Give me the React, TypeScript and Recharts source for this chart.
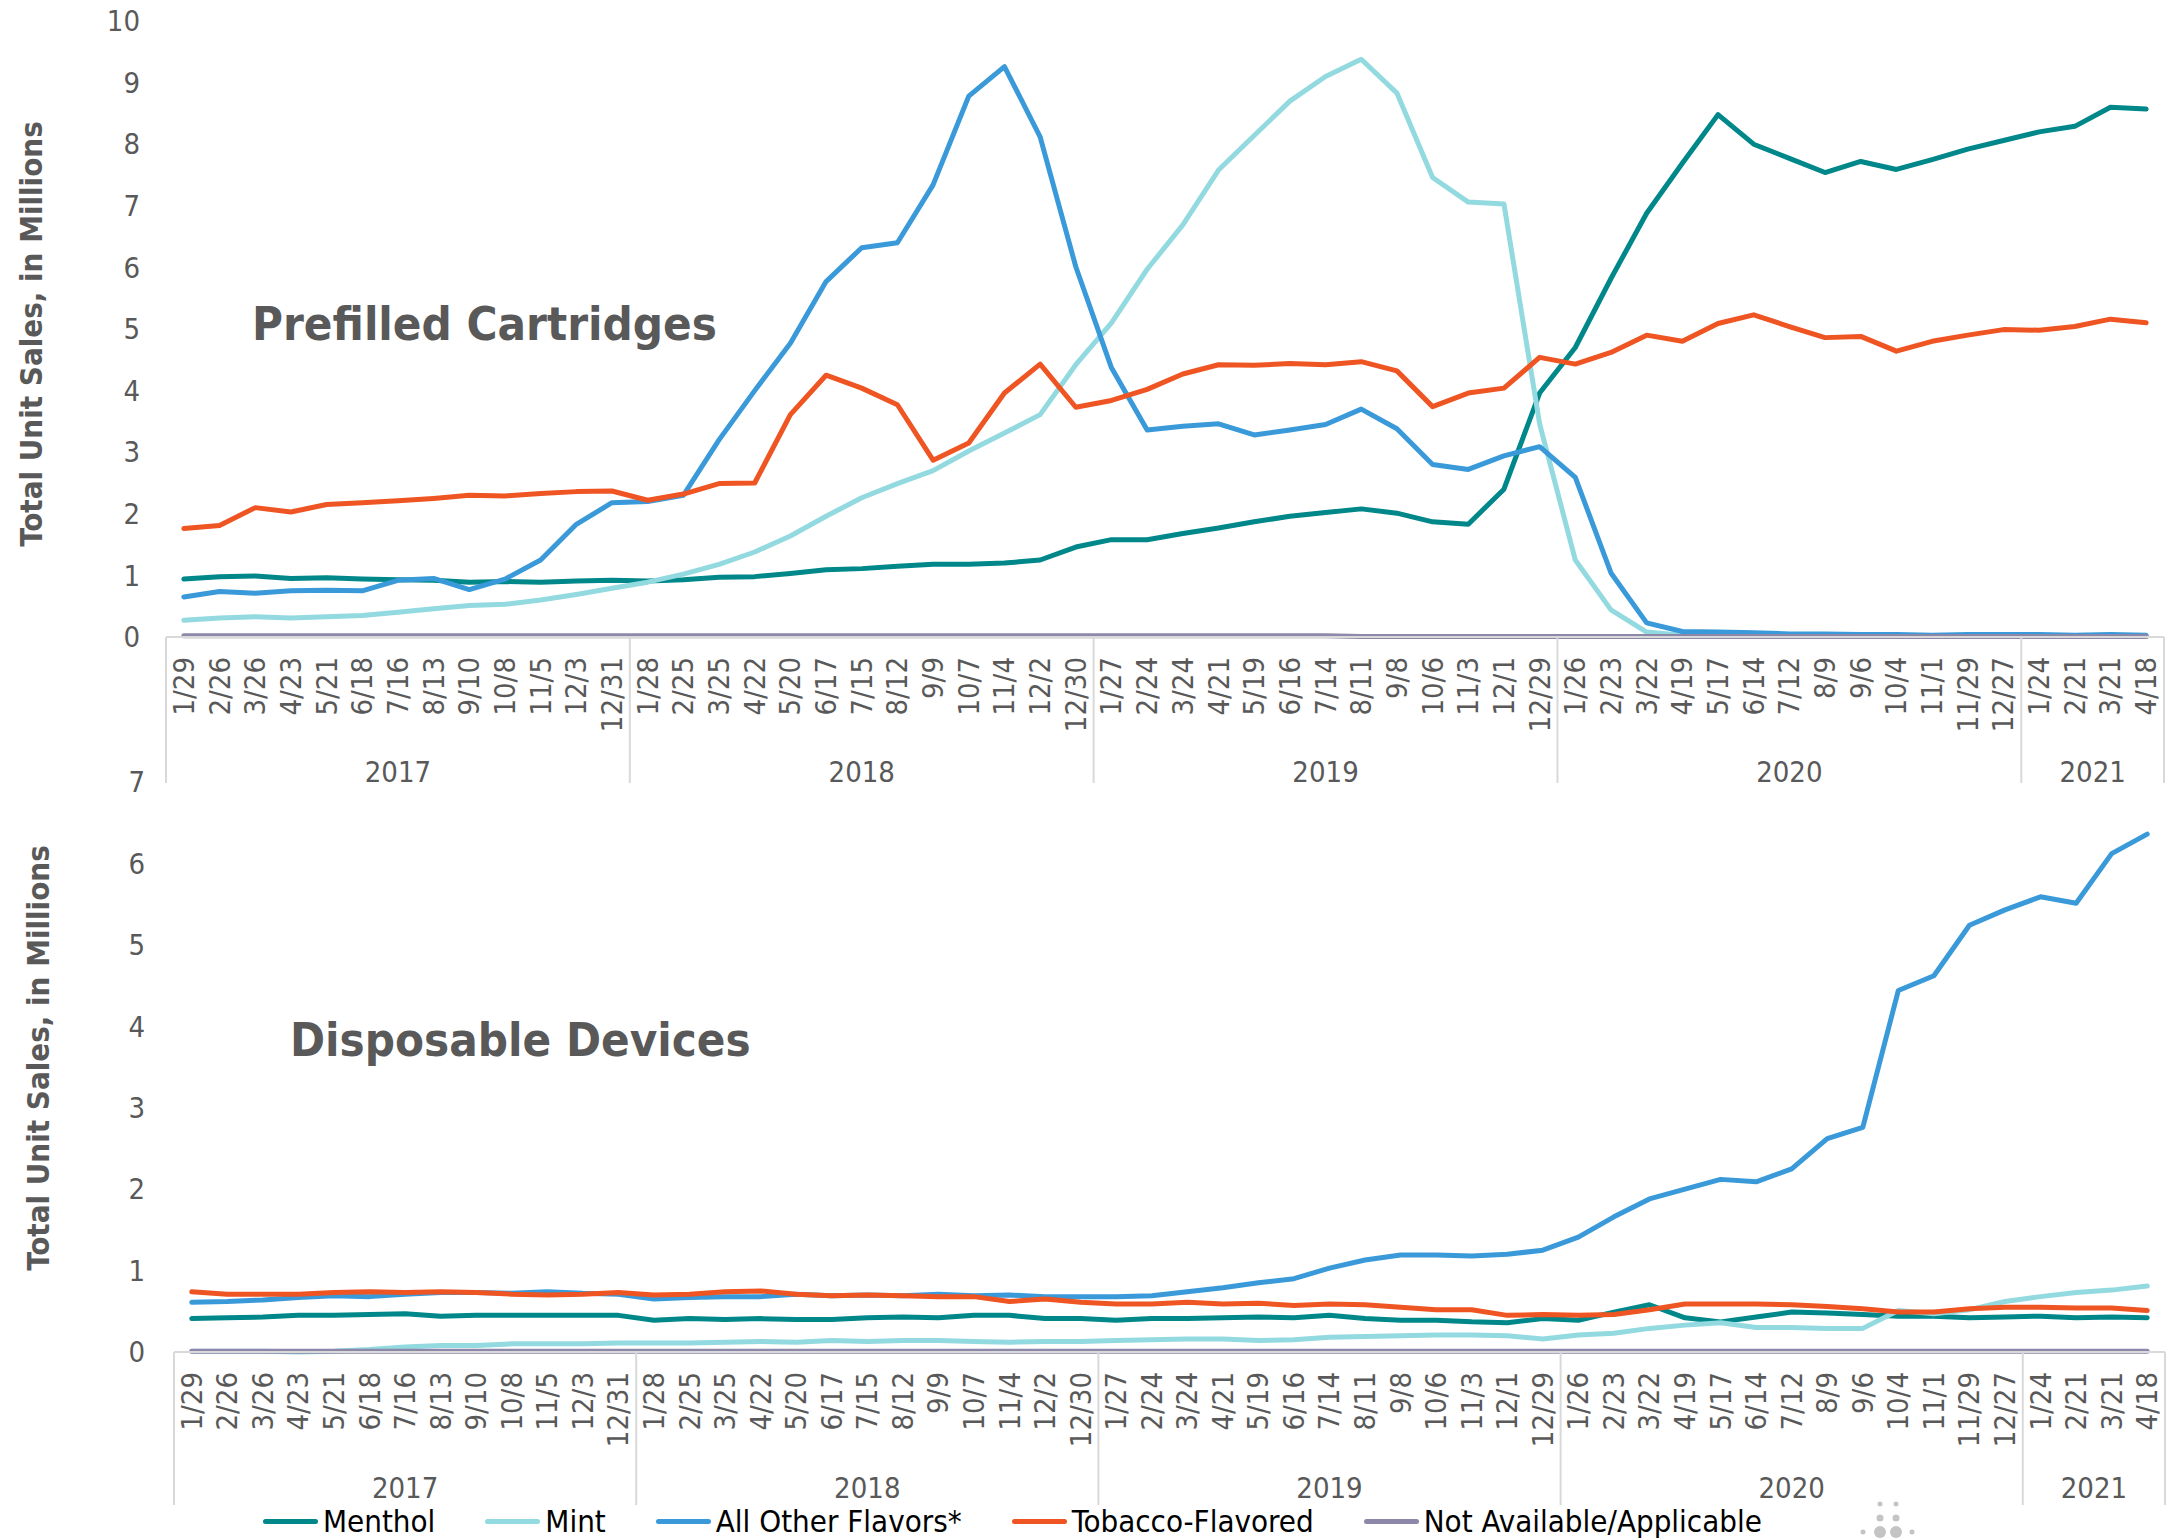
import { Line, LineChart, XAxis, YAxis } from 'recharts';

const FONT = "'DejaVu Sans Condensed', 'DejaVu Sans', sans-serif";
const GRAY = '#595959';
const AXIS = '#d9d9d9';

// week-ending dates, grouped by year
const weeks2017 = ['1/29', '2/26', '3/26', '4/23', '5/21', '6/18', '7/16', '8/13', '9/10', '10/8', '11/5', '12/3', '12/31'];
const weeks2018 = ['1/28', '2/25', '3/25', '4/22', '5/20', '6/17', '7/15', '8/12', '9/9', '10/7', '11/4', '12/2', '12/30'];
const weeks2019 = ['1/27', '2/24', '3/24', '4/21', '5/19', '6/16', '7/14', '8/11', '9/8', '10/6', '11/3', '12/1', '12/29'];
const weeks2020 = ['1/26', '2/23', '3/22', '4/19', '5/17', '6/14', '7/12', '8/9', '9/6', '10/4', '11/1', '11/29', '12/27'];
const weeks2021 = ['1/24', '2/21', '3/21', '4/18'];

const yearGroups = [
  { year: '2017', weeks: weeks2017 },
  { year: '2018', weeks: weeks2018 },
  { year: '2019', weeks: weeks2019 },
  { year: '2020', weeks: weeks2020 },
  { year: '2021', weeks: weeks2021 },
];
const weekLabels = yearGroups.flatMap((g) => g.weeks);

// Prefilled cartridges, millions of units
const cartMenthol = [
  0.94, 0.98, 0.99, 0.95, 0.96, 0.94, 0.93, 0.92, 0.89, 0.9, 0.89, 0.91, 0.92,
  0.91, 0.93, 0.97, 0.98, 1.03, 1.09, 1.11, 1.15, 1.18, 1.18, 1.2, 1.25, 1.46,
  1.58, 1.58, 1.68, 1.77, 1.87, 1.96, 2.02, 2.08, 2.01, 1.87, 1.83, 2.4, 3.96,
  4.7, 5.82, 6.88, 7.69, 8.48, 8.0, 7.77, 7.54, 7.72, 7.59, 7.75, 7.92, 8.06,
  8.2, 8.29, 8.6, 8.57,
];
const cartMint = [
  0.27, 0.31, 0.33, 0.31, 0.33, 0.35, 0.4, 0.46, 0.51, 0.53, 0.6, 0.69, 0.79,
  0.89, 1.02, 1.18, 1.38, 1.64, 1.96, 2.26, 2.49, 2.7, 3.02, 3.31, 3.61, 4.42,
  5.1, 5.97, 6.69, 7.58, 8.14, 8.7, 9.1, 9.38, 8.83, 7.46, 7.06, 7.03, 3.46,
  1.25, 0.44, 0.08, 0.03, 0.02, 0.02, 0.02, 0.02, 0.01, 0.01, 0.01, 0.01, 0.01,
  0.01, 0.01, 0.01, 0.01,
];
const cartOther = [
  0.65, 0.74, 0.71, 0.75, 0.76, 0.75, 0.92, 0.95, 0.77, 0.94, 1.25, 1.83, 2.18,
  2.2, 2.3, 3.2, 4.0, 4.77, 5.77, 6.32, 6.4, 7.34, 8.78, 9.26, 8.12, 6.01,
  4.37, 3.36, 3.42, 3.46, 3.28, 3.36, 3.45, 3.7, 3.38, 2.8, 2.72, 2.94, 3.09,
  2.59, 1.04, 0.23, 0.09, 0.08, 0.07, 0.05, 0.05, 0.04, 0.04, 0.03, 0.04, 0.04,
  0.04, 0.03, 0.04, 0.03,
];
const cartTobacco = [
  1.76, 1.81, 2.1, 2.03, 2.15, 2.18, 2.21, 2.25, 2.3, 2.29, 2.33, 2.36, 2.37,
  2.22, 2.32, 2.49, 2.5, 3.61, 4.25, 4.04, 3.77, 2.87, 3.15, 3.96, 4.43, 3.73,
  3.84, 4.02, 4.27, 4.42, 4.41, 4.44, 4.42, 4.47, 4.32, 3.74, 3.96, 4.04, 4.54,
  4.43, 4.62, 4.9, 4.8, 5.09, 5.23, 5.04, 4.86, 4.88, 4.64, 4.8, 4.9, 4.99,
  4.98, 5.04, 5.16, 5.1,
];
const cartNA = [
  0.02, 0.02, 0.02, 0.02, 0.02, 0.02, 0.02, 0.02, 0.02, 0.02, 0.02, 0.02, 0.02,
  0.02, 0.02, 0.02, 0.02, 0.02, 0.02, 0.02, 0.02, 0.02, 0.02, 0.02, 0.02, 0.02,
  0.02, 0.02, 0.02, 0.02, 0.02, 0.02, 0.02, 0.01, 0.01, 0.01, 0.01, 0.01, 0.01,
  0.01, 0.01, 0.01, 0.01, 0.01, 0.01, 0.01, 0.01, 0.01, 0.01, 0.01, 0.01, 0.01,
  0.01, 0.01, 0.01, 0.01,
];

// Disposable devices, millions of units
const dispMenthol = [
  0.41, 0.42, 0.43, 0.45, 0.45, 0.46, 0.47, 0.44, 0.45, 0.45, 0.45, 0.45, 0.45,
  0.39, 0.41, 0.4, 0.41, 0.4, 0.4, 0.42, 0.43, 0.42, 0.45, 0.45, 0.41, 0.41,
  0.39, 0.41, 0.41, 0.42, 0.43, 0.42, 0.45, 0.41, 0.39, 0.39, 0.37, 0.36, 0.41,
  0.39, 0.49, 0.58, 0.42, 0.37, 0.43, 0.49, 0.48, 0.46, 0.44, 0.44, 0.42, 0.43,
  0.44, 0.42, 0.43, 0.42,
];
const dispMint = [
  0.01, 0.01, 0.01, 0.0, 0.01, 0.03, 0.06, 0.08, 0.08, 0.1, 0.1, 0.1, 0.11,
  0.11, 0.11, 0.12, 0.13, 0.12, 0.14, 0.13, 0.14, 0.14, 0.13, 0.12, 0.13, 0.13,
  0.14, 0.15, 0.16, 0.16, 0.14, 0.15, 0.18, 0.19, 0.2, 0.21, 0.21, 0.2, 0.16,
  0.21, 0.23, 0.29, 0.33, 0.36, 0.3, 0.3, 0.29, 0.29, 0.51, 0.47, 0.52, 0.62,
  0.68, 0.73, 0.76, 0.81,
];
const dispOther = [
  0.61, 0.62, 0.64, 0.67, 0.69, 0.68, 0.71, 0.73, 0.73, 0.72, 0.74, 0.72, 0.71,
  0.65, 0.67, 0.68, 0.68, 0.71, 0.69, 0.7, 0.69, 0.71, 0.69, 0.7, 0.68, 0.68,
  0.68, 0.69, 0.74, 0.79, 0.85, 0.9, 1.03, 1.13, 1.19, 1.19, 1.18, 1.2, 1.25,
  1.41, 1.66, 1.88, 2.0, 2.12, 2.09, 2.25, 2.62, 2.76, 4.44, 4.62, 5.24, 5.43,
  5.59, 5.51, 6.12, 6.36,
];
const dispTobacco = [
  0.74, 0.71, 0.71, 0.71, 0.73, 0.74, 0.73, 0.74, 0.73, 0.71, 0.7, 0.71, 0.73,
  0.7, 0.71, 0.74, 0.75, 0.71, 0.69, 0.7, 0.69, 0.68, 0.68, 0.62, 0.65, 0.61,
  0.59, 0.59, 0.61, 0.59, 0.6, 0.57, 0.59, 0.58, 0.55, 0.52, 0.52, 0.45, 0.46,
  0.45, 0.46, 0.52, 0.59, 0.59, 0.59, 0.58, 0.56, 0.53, 0.49, 0.49, 0.53, 0.55,
  0.55, 0.54, 0.54, 0.51,
];
const dispNA = [
  0.01, 0.01, 0.01, 0.01, 0.01, 0.01, 0.01, 0.01, 0.01, 0.01, 0.01, 0.01, 0.01,
  0.01, 0.01, 0.01, 0.01, 0.01, 0.01, 0.01, 0.01, 0.01, 0.01, 0.01, 0.01, 0.01,
  0.01, 0.01, 0.01, 0.01, 0.01, 0.01, 0.01, 0.01, 0.01, 0.01, 0.01, 0.01, 0.01,
  0.01, 0.01, 0.01, 0.01, 0.01, 0.01, 0.01, 0.01, 0.01, 0.01, 0.01, 0.01, 0.01,
  0.01, 0.01, 0.01, 0.01,
];

const cartTicks = [0, 1, 2, 3, 4, 5, 6, 7, 8, 9, 10];
const dispTicks = [0, 1, 2, 3, 4, 5, 6, 7];

const series = [
  { key: 'menthol', name: 'Menthol', color: '#00878A' },
  { key: 'mint', name: 'Mint', color: '#92DADF' },
  { key: 'other', name: 'All Other Flavors*', color: '#3A9AD9' },
  { key: 'tobacco', name: 'Tobacco-Flavored', color: '#EF5423' },
  { key: 'na', name: 'Not Available/Applicable', color: '#8D88AA' },
];

type Row = { label: string; [k: string]: number | string };

function buildRows(values: Record<string, number[]>): Row[] {
  return weekLabels.map((label, i) => {
    const row: Row = { label };
    for (const s of series) row[s.key] = values[s.key][i];
    return row;
  });
}

const cartRows = buildRows({
  menthol: cartMenthol,
  mint: cartMint,
  other: cartOther,
  tobacco: cartTobacco,
  na: cartNA,
});
const dispRows = buildRows({
  menthol: dispMenthol,
  mint: dispMint,
  other: dispOther,
  tobacco: dispTobacco,
  na: dispNA,
});

const groups = (() => {
  let start = 0;
  return yearGroups.map((g) => {
    const out = { year: g.year, start, count: g.weeks.length };
    start += g.weeks.length;
    return out;
  });
})();

// two-level category tick: rotated week label, year label, group separators
function makeTick(band: number, lineLen: number, yearDy: number) {
  return function WeekTick(props: any) {
    const { x, y, payload } = props;
    const i: number = props.index ?? payload.index;
    const g = groups.find((gr) => i >= gr.start && i < gr.start + gr.count)!;
    const mid = g.start + (g.count - 1) / 2;
    const isLast = i === weekLabels.length - 1;
    return (
      <g>
        <text
          transform={`translate(${x},${y + 20}) rotate(-90)`}
          textAnchor="end"
          dominantBaseline="central"
          fill={GRAY}
          fontSize={29}
          fontFamily={FONT}
        >
          {payload.value}
        </text>
        {i === g.start && (
          <line x1={x - band / 2} x2={x - band / 2} y1={y} y2={y + lineLen} stroke={AXIS} strokeWidth={2} />
        )}
        {isLast && (
          <line x1={x + band / 2} x2={x + band / 2} y1={y} y2={y + lineLen} stroke={AXIS} strokeWidth={2} />
        )}
        {i === Math.floor(mid) && (
          <text
            x={x + (mid - Math.floor(mid)) * band}
            y={y + yearDy}
            textAnchor="middle"
            dominantBaseline="central"
            fill={GRAY}
            fontSize={29}
            fontFamily={FONT}
          >
            {g.year}
          </text>
        )}
      </g>
    );
  };
}

function lines() {
  return series.map((s) => (
    <Line
      key={s.key}
      type="linear"
      dataKey={s.key}
      name={s.name}
      stroke={s.color}
      strokeWidth={5}
      strokeLinejoin="round"
      strokeLinecap="round"
      dot={false}
      activeDot={false}
      isAnimationActive={false}
    />
  ));
}

const cartBand = (2164 - 166) / 56;
const dispBand = (2165 - 174) / 56;

export default function App() {
  return (
    <div
      style={{
        position: 'absolute',
        left: 0,
        top: 0,
        width: 2169,
        height: 1539,
        background: '#fff',
        fontFamily: FONT,
        overflow: 'hidden',
      }}
    >
      <div style={{ position: 'absolute', left: 0, top: 0 }}>
        <LineChart width={2169} height={790} data={cartRows} margin={{ top: 21, right: 5, left: 0, bottom: 0 }}>
          <XAxis
            dataKey="label"
            interval={0}
            height={153}
            padding={{ left: cartBand / 2, right: cartBand / 2 }}
            axisLine={{ stroke: AXIS, strokeWidth: 2 }}
            tickLine={false}
            tickSize={0}
            tickMargin={0}
            tick={makeTick(cartBand, 146, 135)}
          />
          <YAxis
            width={166}
            domain={[0, 10]}
            ticks={cartTicks}
            interval={0}
            axisLine={false}
            tickLine={false}
            tickSize={0}
            tickMargin={26}
            tick={{ fill: GRAY, fontSize: 29, fontFamily: FONT }}
          />
          {lines()}
        </LineChart>
      </div>
      <div style={{ position: 'absolute', left: 0, top: 740 }}>
        <LineChart width={2169} height={799} data={dispRows} margin={{ top: 42, right: 4, left: 0, bottom: 0 }}>
          <XAxis
            dataKey="label"
            interval={0}
            height={187}
            padding={{ left: dispBand / 2, right: dispBand / 2 }}
            axisLine={{ stroke: AXIS, strokeWidth: 2 }}
            tickLine={false}
            tickSize={0}
            tickMargin={0}
            tick={makeTick(dispBand, 153, 136)}
          />
          <YAxis
            width={174}
            domain={[0, 7]}
            ticks={dispTicks}
            interval={0}
            axisLine={false}
            tickLine={false}
            tickSize={0}
            tickMargin={29}
            tick={{ fill: GRAY, fontSize: 29, fontFamily: FONT }}
          />
          {lines()}
        </LineChart>
      </div>

      <svg
        width={2169}
        height={1539}
        style={{ position: 'absolute', left: 0, top: 0, pointerEvents: 'none' }}
      >
        <text x={252} y={340} fontSize={47} fontWeight="bold" fill={GRAY} fontFamily={FONT}>
          Prefilled Cartridges
        </text>
        <text x={290} y={1056} fontSize={47} fontWeight="bold" fill={GRAY} fontFamily={FONT}>
          Disposable Devices
        </text>
        <text
          transform="translate(31,334) rotate(-90)"
          textAnchor="middle"
          dominantBaseline="central"
          fontSize={31}
          fontWeight="bold"
          fill={GRAY}
          fontFamily={FONT}
        >
          Total Unit Sales, in Millions
        </text>
        <text
          transform="translate(38,1058) rotate(-90)"
          textAnchor="middle"
          dominantBaseline="central"
          fontSize={31}
          fontWeight="bold"
          fill={GRAY}
          fontFamily={FONT}
        >
          Total Unit Sales, in Millions
        </text>
        <g fill="#c4c4c4">
          <circle cx={1880} cy={1504} r={2.5} />
          <circle cx={1896} cy={1504} r={2.5} />
          <circle cx={1880} cy={1518} r={3.5} />
          <circle cx={1896} cy={1518} r={3.5} />
          <circle cx={1863} cy={1532} r={2.5} />
          <circle cx={1880} cy={1532} r={6} />
          <circle cx={1896} cy={1532} r={6} />
          <circle cx={1912} cy={1532} r={2.5} />
        </g>
      </svg>

      <div
        style={{
          position: 'absolute',
          left: 263,
          top: 1503,
          height: 36,
          display: 'flex',
          alignItems: 'center',
          whiteSpace: 'nowrap',
        }}
      >
        {series.map((s) => (
          <div key={s.key} style={{ display: 'flex', alignItems: 'center', marginRight: 50 }}>
            <span
              style={{
                display: 'inline-block',
                width: 55,
                height: 5,
                borderRadius: 3,
                background: s.color,
                marginRight: 5,
              }}
            />
            <span style={{ fontSize: 31, lineHeight: '36px', color: '#000' }}>{s.name}</span>
          </div>
        ))}
      </div>
    </div>
  );
}
